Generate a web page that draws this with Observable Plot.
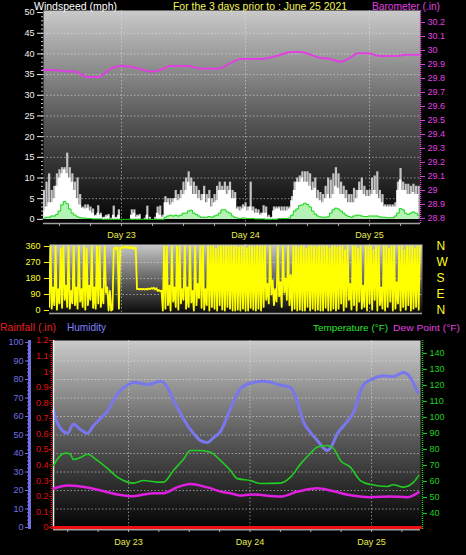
<!DOCTYPE html>
<html><head><meta charset="utf-8">
<script src="https://cdn.jsdelivr.net/npm/d3@7"></script>
<script src="https://cdn.jsdelivr.net/npm/@observablehq/plot@0.6"></script>
<style>
html,body{margin:0;padding:0;background:#000;}
#root{position:relative;width:466px;height:555px;background:#000;overflow:hidden;}
</style></head><body><div id="root"></div>
<script>
// ---------- DATA ----------
const dayTicks = [24, 48, 72];
const dayLabels = ["Day 23", "Day 24", "Day 25"];
const sixHourTicks = [12, 18, 24, 30, 36, 42, 48, 54, 60, 66, 72, 78];

const windTicks = [0, 5, 10, 15, 20, 25, 30, 35, 40, 45, 50];
const windGrid = [5, 10, 15, 20, 25, 30, 35, 40, 45];
const baroTicks = [28.8, 28.9, 29.0, 29.1, 29.2, 29.3, 29.4, 29.5, 29.6, 29.7, 29.8, 29.9, 30.0, 30.1, 30.2];
const dirTicks = [0, 90, 180, 270, 360];
const dirCompass = ["N", "E", "S", "W", "N"];
const humTicks = [0, 10, 20, 30, 40, 50, 60, 70, 80, 90, 100];
const humGrid = [10, 20, 30, 40, 50, 60, 70, 80, 90];
const rainTicks = [0, 0.1, 0.2, 0.3, 0.4, 0.5, 0.6, 0.7, 0.8, 0.9, 1.0, 1.1, 1.2];
const tempTicks = [40, 50, 60, 70, 80, 90, 100, 110, 120, 130, 140];

// wind samples every half hour from hour 9 (hours counted from Day 22 00:00)
const windStart = 9, windStep = 0.5;
const windGust = [7,9,11,7,8,11,12,12.5,12.5,16,12.5,11,9,10,6,3,3.5,3.5,3,2.5,1,3.3,1.5,0.5,1,1.2,0.3,3.2,0.5,2.3,0,0,0,0,2.3,2.3,1,1.2,0,0.3,3.2,0.5,0,0.5,3,3.2,1,5.5,5,5,5,7,6,7,9,10,11.5,10,9,8,7,6,8,6,7,5,6,8,9,8,9,8,9,
  7,6.5,3,3,3.5,4,3,9,3,2.5,2.3,1.5,3.3,3,1,0.5,3,3,3,3,3,3,3,5.5,9,10,10.5,11.5,11.5,11.5,11,9,10,7,6.5,6,8,10,9.5,11,12.5,11,9,8,7,6,6,7.5,7,9,10,8,7,7,10,10.5,11.5,7,6,3.5,3.5,3.5,3.5,4,9,12.3,9,8.5,8.5,8,8.5,8,8];
const windSpeed = [2,3,4,4,5,8,10,11,12,11,10,9,7,5,3.5,2.7,2.5,2.7,2,1.5,0.8,1.5,1,0.3,0.5,0.8,0,1,0.3,1,0,0,0,0,1,1.5,0.5,0.8,0,0,1,0,0,0,1.5,1,0.5,4,4,3.5,4,5,4.5,5,6,7,9,8,6,6,5,4.5,6,4,5,3,4,4.5,7,7,7,6,7,
  5,5,2.5,2,2.5,3,2,3,2,1.5,1.5,1,1.5,1.5,0.5,0.3,2,2.5,2.5,2,2,2,2.5,4.5,7,9,9,10,9,9,8,7,7.5,5,4.5,4,5,6,5,6,8,7.5,6,6,5,4,4,4,5,7,7,6,5.5,5.5,6,7,6,5,4,3,3,3,3,3,7,9.5,7,7,6,6,6.5,6,6];
const windAvg = [0.3,0.5,0.5,0.8,0.8,1.2,2,3.5,4.3,3.8,2.5,1.5,1,0.6,0.4,0.3,0.3,0.2,0.2,0.1,0.1,0.1,0.1,0,0,0,0,0,0,0,0,0,0,0,0,0,0,0,0,0,0,0,0,0,0,0,0,0.5,0.8,1,0.8,1,0.8,1,1.5,1.5,2,2.2,1.5,1.2,0.8,0.5,0.5,0.5,0.7,0.5,0.8,1,1.5,2.3,2.3,1.8,1.5,
  0.8,0.5,0.3,0.2,0.3,0.3,0.2,0.2,0.2,0.1,0.1,0.1,0.1,0,0,0,0,0,0.2,0.2,0.2,0.2,0.3,1,2,2.5,3.3,3.5,3.9,3.6,3,2,1.3,0.8,0.6,0.5,0.5,0.6,1.5,2.3,2.7,2.5,2,1.5,1,0.7,0.5,0.8,1,1,0.8,0.7,0.7,0.8,0.8,0.8,0.8,0.6,0.5,0.5,0.4,0.4,0.4,0.8,1.5,2.6,2.3,1.5,1.2,1.5,1.8,1.5,1];

const baroHours = [8.9,11,13.5,15,17.4,19.4,21.9,23.8,26.3,28.3,30,32.1,33.5,36.8,39.3,42.6,45.1,47,50.9,54.8,56.7,58.6,60.6,62.1,64.4,66.4,68.3,69.7,71.6,74.1,77,79,81.9];
const baroValues = [29.86,29.86,29.85,29.85,29.81,29.81,29.87,29.89,29.88,29.86,29.85,29.87,29.89,29.89,29.87,29.87,29.91,29.94,29.94,29.97,29.99,29.99,29.97,29.95,29.94,29.92,29.95,29.98,29.98,29.96,29.96,29.97,29.97];

// wind direction: low / high reading in each half hour from hour 10
const dirStart = 10, dirStep = 0.5;
const dirLow = [20,10,30,5,40,15,60,20,10,40,30,10,50,20,5,30,60,15,10,40,20,40,100,0,
  0,345,345,10,350,352,352,350,350,345,
  120,118,118,118,118,120,122,118,110,108,
  0,10,30,0,50,20,5,40,60,10,20,45,0,30,70,15,5,30,0,20,10,0,30,5,0,20,10,0,
  0,5,0,10,0,0,15,5,0,10,0,
  20,60,40,90,30,50,80,20,100,60,30,
  0,10,0,5,0,0,20,0,10,0,5,0,0,15,0,0,10,0,
  10,40,0,20,60,5,30,0,50,10,20,0,40,5,60,0,30,10,0,20,50,0,10,40,0,20,5,30,0,10,20,5];
const dirHigh = [360,130,360,120,350,360,140,360,110,360,130,360,120,360,350,140,360,130,360,360,120,360,130,110,
  5,355,355,355,358,360,360,358,356,355,
  122,122,122,122,124,126,128,126,115,112,
  360,360,140,360,130,360,360,120,360,130,360,110,360,150,360,360,120,360,360,360,350,360,360,360,360,360,360,360,
  360,355,360,360,350,360,360,355,360,360,360,
  360,150,360,170,120,360,160,360,180,360,200,
  360,360,355,360,360,350,360,360,360,355,360,360,360,360,350,360,360,355,
  360,360,340,360,150,360,360,350,360,140,360,360,360,340,360,360,130,360,360,350,360,360,160,360,360,340,360,360,360,350,360,360];

const humHours = [9.2,9.6,10.6,12,13.1,14.5,15.9,17.1,18.5,19.9,21,22.4,23.8,25,26.4,27.8,28.9,30.3,31.7,32.9,34.3,35.7,36.8,38.2,39.6,40.8,42.2,44.1,46.1,48.1,50.7,54,56,57.4,58.6,59.9,61.3,63.3,63.9,65.3,66.5,68.4,70.4,72.4,74.4,76.3,78.3,79.7,81.1];
const humValues = [63,59,53.5,51,56,53,51,55,59,63,68.6,74,77,78.5,78,77.3,78,79,75.7,68.6,61.6,55,51,47,46,48.6,52,64,75,78,79,77,75.7,67.6,56.8,51.5,47,41.6,43,51,55,62,77,80.5,82,81.6,83.8,81,73];

const tempHours = [9.2,10.2,11.6,12.5,13.1,14.5,15.9,17.9,19.9,21.8,23.8,25,27,29.7,30.9,32.9,34.9,36.2,38.2,40.2,42.2,44.1,45.5,48.1,50.1,54,56,58,59.9,61.3,63.3,64.5,65.9,67.8,69.8,71.8,75.2,76.3,78.3,80.3,81.3];
const tempValues = [70,75,77.7,77,73.8,75,77,73,68,62.7,59.6,59,60.6,59.6,59.6,67,74,79.4,79.4,78.3,73,67,61.8,60.6,58.7,59,62.7,71,77.5,81.5,82.5,80.6,73,69,60.6,58.1,56.9,58,56.5,59.6,63.7];

const dewHours = [9.2,12,15.9,18.5,21.8,25,28.3,30.9,33.7,36.2,39.6,42.8,44.1,46.1,48.1,54,57.4,61.3,63.9,67.3,71.8,75.7,79.1,81.3];
const dewValues = [55.6,57.5,56.3,54.4,51.9,50.8,52.5,52.7,56.5,58.5,56.3,53.3,52.7,51.2,51.9,50.6,53.7,55.8,54.4,51.7,50.2,50.6,50.2,53.3];

const rainHours = [9.2, 81.7];
const rainValues = [0, 0];

// ---------- TABLES ----------
const windData = windGust.map((g, i) => ({t: windStart + i * windStep, gust: g, speed: windSpeed[i], avg: windAvg[i]}));
const baroData = baroHours.map((t, i) => ({t, v: baroValues[i]}));
const dirData = [];
dirLow.forEach((lo, i) => {
  const t = dirStart + i * dirStep;
  dirData.push({t, d: lo});
  dirData.push({t: t + dirStep / 2, d: dirHigh[i]});
});
const humData = humHours.map((t, i) => ({t, v: humValues[i]}));
const tempData = tempHours.map((t, i) => ({t, v: tempValues[i]}));
const dewData = dewHours.map((t, i) => ({t, v: dewValues[i]}));
const rainData = rainHours.map((t, i) => ({t, v: rainValues[i]}));

// ---------- HELPERS ----------
const FONT = "'Liberation Sans', Arial, sans-serif";
const root = document.getElementById("root");
const baseStyle = {background: "transparent", color: "#fff", fontFamily: FONT, fontSize: "9px", overflow: "visible"};
function place(svg, top) {
  svg.style.position = "absolute";
  svg.style.left = "0px";
  svg.style.top = top + "px";
  root.appendChild(svg);
  return svg;
}
function addGradient(svg, id, stops) {
  const ns = "http://www.w3.org/2000/svg";
  const defs = document.createElementNS(ns, "defs");
  const lg = document.createElementNS(ns, "linearGradient");
  lg.setAttribute("id", id);
  lg.setAttribute("x1", "0"); lg.setAttribute("y1", "0");
  lg.setAttribute("x2", "0"); lg.setAttribute("y2", "1");
  stops.forEach(([o, c]) => {
    const s = document.createElementNS(ns, "stop");
    s.setAttribute("offset", o); s.setAttribute("stop-color", c);
    lg.appendChild(s);
  });
  defs.appendChild(lg);
  svg.insertBefore(defs, svg.firstChild);
}
const gridStyle = {stroke: "#e8e8e8", strokeOpacity: 0.55, strokeDasharray: "1.5,2"};
const dayFmt = d => dayLabels[dayTicks.indexOf(d)];

// ---------- TOP PANEL: wind speed + barometer ----------
const topDims = {width: 466, height: 245, marginLeft: 43, marginRight: 46, marginTop: 10, marginBottom: 22};
const topX = [8.91, 81.86];
const windY = [-1, 50.5];
const pWind = Plot.plot({
  ...topDims, style: baseStyle,
  x: {domain: topX}, y: {domain: windY},
  marks: [
    Plot.frame({fill: "url(#gTop)", stroke: "none"}),
    Plot.gridY({ticks: windGrid, ...gridStyle}),
    Plot.gridX({ticks: dayTicks, ...gridStyle}),
    Plot.ruleX(windData, {x: "t", y1: 0, y2: "gust", stroke: "#c4c4c4", strokeWidth: 2.2, clip: true}),
    Plot.areaY(windData, {x: "t", y: "speed", fill: "#ffffff", curve: "step", clip: true}),
    Plot.areaY(windData, {x: "t", y: "avg", fill: "#a8f0a8", fillOpacity: 0.85, curve: "step", clip: true}),
    Plot.lineY(windData, {x: "t", y: "avg", stroke: "#18d818", strokeWidth: 1, curve: "step", clip: true}),
    Plot.ruleY([windY[0]], {stroke: "#a0a0a0", strokeWidth: 1.5}),
    Plot.axisY({ticks: windTicks, anchor: "left", tickSize: 6, tickPadding: 3, color: "#f0f0f0", fontSize: 9, label: null}),
    Plot.axisY({ticks: d3.range(0, 51), anchor: "left", tickSize: 2, tickFormat: () => "", color: "#c8c8c8", label: null}),
    Plot.axisX({ticks: dayTicks, anchor: "bottom", tickSize: 0, tickPadding: 8, tickFormat: dayFmt, color: "#eaea50", fontSize: 9, label: null}),
    Plot.axisX({ticks: sixHourTicks, anchor: "bottom", tickSize: 3, tickFormat: () => "", color: "#b0b0b0", label: null})
  ]
});
addGradient(pWind, "gTop", [["0", "#cacaca"], ["0.5", "#5a5a5a"], ["1", "#030303"]]);
place(pWind, 0);

const pBaro = Plot.plot({
  ...topDims, style: baseStyle,
  x: {domain: topX, axis: null}, y: {domain: [28.764, 30.286]},
  marks: [
    Plot.lineY(baroData, {x: "t", y: "v", stroke: "#e040e0", strokeWidth: 2, curve: "monotone-x"}),
    Plot.ruleX([topX[1]], {stroke: "#e040e0", strokeDasharray: "1,1", strokeWidth: 1.5}),
    Plot.axisY({ticks: baroTicks, anchor: "right", tickSize: 4, tickPadding: 3, tickFormat: d => String(+d.toFixed(1)), color: "#e040e0", fontSize: 9, label: null})
  ]
});
place(pBaro, 0);

// ---------- MIDDLE PANEL: wind direction ----------
const dirX = [10.07, 82.24];
const dirY = [-16.9, 371.25];
const pDir = Plot.plot({
  width: 466, height: 85, marginLeft: 49, marginRight: 44, marginTop: 8, marginBottom: 8,
  style: baseStyle,
  x: {domain: dirX, axis: null}, y: {domain: dirY},
  marks: [
    Plot.frame({fill: "url(#gDir)", stroke: "none"}),
    Plot.gridY({ticks: [90, 180, 270], ...gridStyle}),
    Plot.gridX({ticks: dayTicks, ...gridStyle}),
    Plot.lineY(dirData, {x: "t", y: "d", stroke: "#ffff00", strokeWidth: 1.8, clip: true}),
    Plot.ruleY([dirY[0]], {stroke: "#a0a0a0", strokeWidth: 1.5}),
    Plot.axisY({ticks: dirTicks, anchor: "left", tickSize: 5, tickPadding: 4, color: "#ffff20", fontSize: 9, label: null}),
    Plot.axisY({ticks: dirTicks, anchor: "right", tickSize: 0, tickPadding: 14, tickFormat: d => dirCompass[dirTicks.indexOf(d)], color: "#ffff20", fontSize: 12, label: null})
  ]
});
addGradient(pDir, "gDir", [["0", "#c8c8c8"], ["0.55", "#5a5a5a"], ["1", "#0a0a0a"]]);
place(pDir, 236);

// ---------- BOTTOM PANEL: humidity, rain, temperature, dew point ----------
const botDims = {width: 466, height: 225, marginLeft: 53, marginRight: 46, marginTop: 10, marginBottom: 26};
const botX = [9.19, 81.67];
const humY = [-1.08, 101.08];
const pHum = Plot.plot({
  ...botDims, style: baseStyle,
  x: {domain: botX}, y: {domain: humY},
  marks: [
    Plot.frame({fill: "url(#gBot)", stroke: "none"}),
    Plot.gridY({ticks: humGrid, ...gridStyle}),
    Plot.gridX({ticks: dayTicks, ...gridStyle}),
    Plot.lineY(humData, {x: "t", y: "v", stroke: "#7878ec", strokeWidth: 3, curve: "monotone-x"}),
    Plot.ruleX([botX[0]], {dx: -24, stroke: "#7070e0", strokeWidth: 3}),
    Plot.ruleX([botX[0]], {stroke: "#f0f0f0", strokeWidth: 1.5}),
    Plot.ruleY([humY[0]], {stroke: "#a0a0a0", strokeWidth: 2}),
    Plot.axisY({ticks: humTicks, anchor: "left", dx: -24, tickSize: 4, tickPadding: 2, color: "#7070e0", fontSize: 9, label: null}),
    Plot.axisY({ticks: d3.range(0, 101, 2), anchor: "left", dx: -24, tickSize: 2, tickFormat: () => "", color: "#7070e0", label: null}),
    Plot.axisX({ticks: dayTicks, anchor: "bottom", tickSize: 0, tickPadding: 9, tickFormat: dayFmt, color: "#eaea50", fontSize: 9, label: null}),
    Plot.axisX({ticks: sixHourTicks, anchor: "bottom", tickSize: 3, tickFormat: () => "", color: "#b0b0b0", label: null})
  ]
});
addGradient(pHum, "gBot", [["0", "#cacaca"], ["0.5", "#5c5c5c"], ["1", "#020202"]]);
place(pHum, 330);

const pTemp = Plot.plot({
  ...botDims, style: baseStyle,
  x: {domain: botX, axis: null}, y: {domain: [30, 148.1]},
  marks: [
    Plot.lineY(tempData, {x: "t", y: "v", stroke: "#22cc22", strokeWidth: 1.6, curve: "monotone-x"}),
    Plot.lineY(dewData, {x: "t", y: "v", stroke: "#e020e0", strokeWidth: 2.5, curve: "monotone-x"}),
    Plot.ruleX([botX[1]], {dx: 2, stroke: "#20d020", strokeDasharray: "1,1", strokeWidth: 1.5}),
    Plot.axisY({ticks: tempTicks, anchor: "right", dx: 2, tickSize: 4, tickPadding: 3, color: "#20d020", fontSize: 9, label: null})
  ]
});
place(pTemp, 330);

const pRain = Plot.plot({
  ...botDims, style: baseStyle,
  x: {domain: botX, axis: null}, y: {domain: [-0.0128, 1.2003]},
  marks: [
    Plot.lineY(rainData, {x: "t", y: "v", stroke: "#ee1010", strokeWidth: 3}),
    Plot.ruleX([botX[0]], {dx: -2, stroke: "#e01010", strokeDasharray: "1,1", strokeWidth: 1.5}),
    Plot.axisY({ticks: rainTicks, anchor: "left", dx: -2, tickSize: 2, tickPadding: 1, tickFormat: d => String(+d.toFixed(1)), color: "#e01010", fontSize: 9, label: null})
  ]
});
place(pRain, 330);

// ---------- TITLES ----------
const titles = [
  {text: "Windspeed (mph)", x: 34, y: 9.5, w: 83, size: 11.5, color: "#ffffff"},
  {text: "For the 3 days prior to : June 25 2021", x: 173, y: 9.5, w: 174, size: 11, color: "#f4f45a"},
  {text: "Barometer (.in)", x: 372, y: 9.5, w: 68, size: 11, color: "#e040e0"},
  {text: "Rainfall (.in)", x: 0, y: 331, w: 56, size: 11, color: "#e02020"},
  {text: "Humidity", x: 67, y: 331, w: 39, size: 11, color: "#8080ff"},
  {text: "Temperature (°F)", x: 313, y: 331, w: 75, size: 9.8, color: "#30e030"},
  {text: "Dew Point (°F)", x: 393, y: 331, w: 67, size: 9.8, color: "#e040e0"}
];
const tsvg = d3.create("svg").attr("width", 466).attr("height", 555)
  .style("position", "absolute").style("left", "0px").style("top", "0px").style("pointer-events", "none");
tsvg.selectAll("text").data(titles).join("text")
  .attr("x", d => d.x).attr("y", d => d.y)
  .attr("textLength", d => d.w).attr("lengthAdjust", "spacingAndGlyphs")
  .attr("fill", d => d.color)
  .style("font-family", FONT).style("font-size", d => d.size + "px")
  .text(d => d.text);
root.appendChild(tsvg.node());
</script>
</body></html>
